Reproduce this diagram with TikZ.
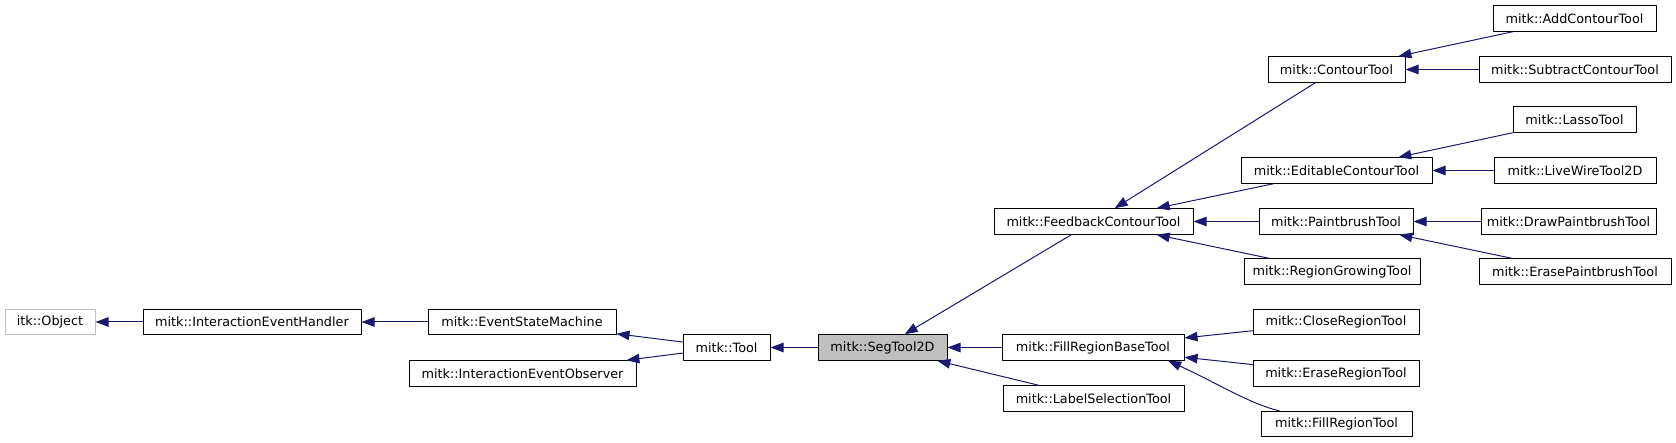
\documentclass[tikz,border=0pt]{standalone}
\usepackage{fontspec}
\setmainfont{DejaVu Sans}
\usetikzlibrary{arrows.meta}
\definecolor{midnightblue}{RGB}{25,25,112}
\definecolor{greyseventyfive}{RGB}{191,191,191}

\begin{document}
\begin{tikzpicture}[line cap=round,line join=round,x=1pt,y=-1pt,
	cls/.style={draw=black,fill=white,line width=1pt,inner sep=0pt,minimum height=25.5pt,font=\fontsize{12.8}{15}\selectfont},
	inh/.style={color=midnightblue,line width=1pt,arrows={-Triangle[length=13pt,width=9.5pt]}}]
		\useasboundingbox (0,0) rectangle (1676,443);
		\node[cls,draw=greyseventyfive,minimum width=90pt] (itkobj) at (50,322) {itk::Object};
		\node[cls,minimum width=218pt] (handler) at (252,322) {mitk::InteractionEventHandler};
		\node[cls,minimum width=188pt] (statemachine) at (522,322) {mitk::EventStateMachine};
		\node[cls,minimum width=227pt] (observer) at (522.5,373.5) {mitk::InteractionEventObserver};
		\node[cls,minimum width=87pt] (tool) at (726.5,347.5) {mitk::Tool};
		\node[cls,fill=greyseventyfive,minimum width=129pt] (segtool) at (882.5,347.5) {mitk::SegTool2D};
		\node[cls,minimum width=199pt] (feedback) at (1093.5,221.5) {mitk::FeedbackContourTool};
		\node[cls,minimum width=182pt] (fillbase) at (1093,347.5) {mitk::FillRegionBaseTool};
		\node[cls,minimum width=181pt] (labelsel) at (1093.5,398.5) {mitk::LabelSelectionTool};
		\node[cls,minimum width=137pt] (contour) at (1336.5,69.5) {mitk::ContourTool};
		\node[cls,minimum width=191pt] (editable) at (1336.5,170.5) {mitk::EditableContourTool};
		\node[cls,minimum width=154pt] (paintbrush) at (1336,221.5) {mitk::PaintbrushTool};
		\node[cls,minimum width=176pt] (regiongrow) at (1332,271.5) {mitk::RegionGrowingTool};
		\node[cls,minimum width=166pt] (closeregion) at (1336,322) {mitk::CloseRegionTool};
		\node[cls,minimum width=166pt] (eraseregion) at (1336,373.5) {mitk::EraseRegionTool};
		\node[cls,minimum width=151pt] (fillregion) at (1336.5,424) {mitk::FillRegionTool};
		\node[cls,minimum width=163pt] (addcontour) at (1574.5,18.5) {mitk::AddContourTool};
		\node[cls,minimum width=192pt] (subcontour) at (1575,69.5) {mitk::SubtractContourTool};
		\node[cls,minimum width=123pt] (lasso) at (1574.5,119.5) {mitk::LassoTool};
		\node[cls,minimum width=162pt] (livewire) at (1575,170.5) {mitk::LiveWireTool2D};
		\node[cls,minimum width=175pt] (drawpaint) at (1568.5,221.5) {mitk::DrawPaintbrushTool};
		\node[cls,minimum width=192pt] (erasepaint) at (1575,271.5) {mitk::ErasePaintbrushTool};
		\draw[inh] (handler.west) -- (itkobj.east);
		\draw[inh] (statemachine.west) -- (handler.east);
		\draw[inh] (tool) -- (statemachine);
		\draw[inh] (tool) -- (observer);
		\draw[inh] (segtool.west) -- (tool.east);
		\draw[inh] (feedback) -- (segtool);
		\draw[inh] (fillbase.west) -- (segtool.east);
		\draw[inh] (labelsel) -- (segtool);
		\draw[inh] (contour) -- (feedback);
		\draw[inh] (editable) -- (feedback);
		\draw[inh] (paintbrush.west) -- (feedback.east);
		\draw[inh] (regiongrow) -- (feedback);
		\draw[inh] (addcontour) -- (contour);
		\draw[inh] (subcontour.west) -- (contour.east);
		\draw[inh] (lasso) -- (editable);
		\draw[inh] (livewire.west) -- (editable.east);
		\draw[inh] (drawpaint.west) -- (paintbrush.east);
		\draw[inh] (erasepaint) -- (paintbrush);
		\draw[inh] (closeregion) -- (fillbase);
		\draw[inh] (eraseregion) -- (fillbase);
		\draw[inh] (fillregion.167.5) .. controls (1250,404) and (1215,382) .. (fillbase.-10.6);
	\end{tikzpicture}
\end{document}
